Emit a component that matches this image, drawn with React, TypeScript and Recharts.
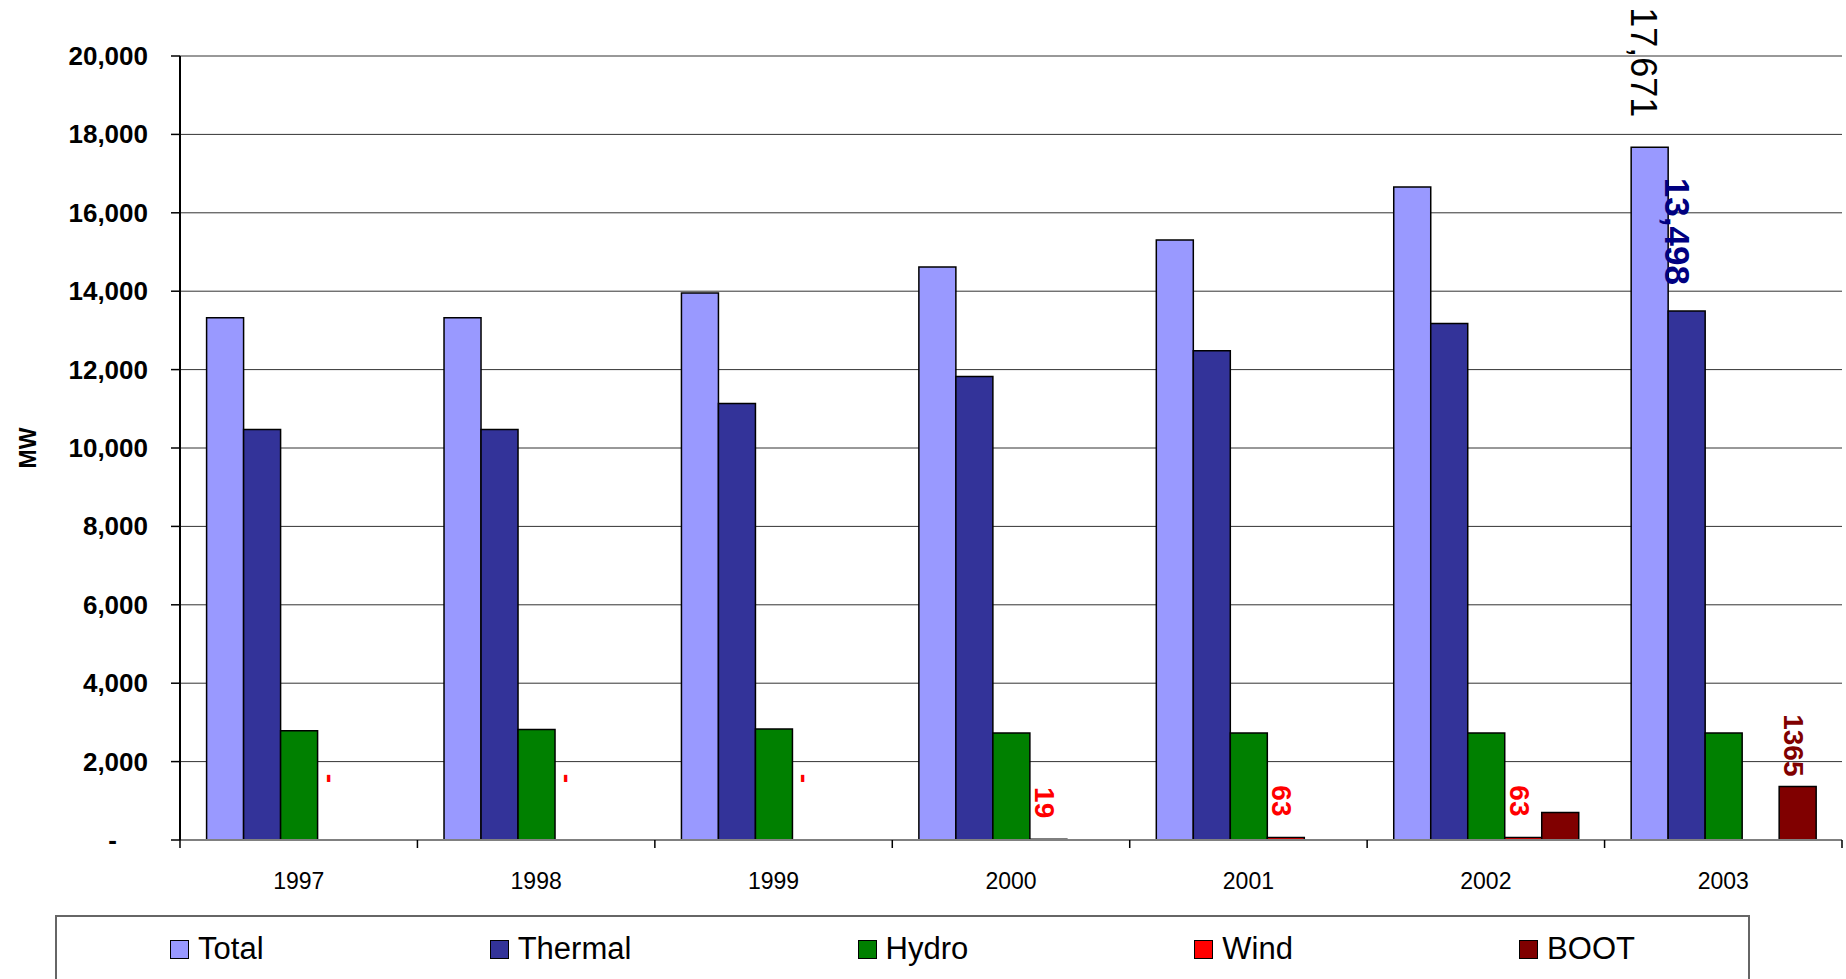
import React from 'react';
import { BarChart, Bar, XAxis, YAxis, CartesianGrid, LabelList, Cell } from 'recharts';

const FONT = "'Liberation Sans', Arial, sans-serif";

const years = ['1997', '1998', '1999', '2000', '2001', '2002', '2003'];
const total = [13324, 13324, 13954, 14615, 15306, 16656, 17671];
const thermal = [10472, 10472, 11133, 11823, 12483, 13174, 13498];
const hydro = [2790, 2820, 2830, 2730, 2730, 2730, 2730];
const wind: (number | null)[] = [0, 0, 0, 19, 63, 63, null];
const boot: (number | null)[] = [null, null, null, null, null, 704, 1365];
const yTicks = [0, 2000, 4000, 6000, 8000, 10000, 12000, 14000, 16000, 18000, 20000];

// years whose bars carry a value label
const totalLabelYears = ['2003'];
const thermalLabelYears = ['2003'];
const bootLabelYears = ['2003'];

const seriesKeys = ['total', 'thermal', 'hydro', 'wind', 'boot'];
const seriesNames = ['Total', 'Thermal', 'Hydro', 'Wind', 'BOOT'];
const colors: Record<string, string> = {
  total: '#9999FF',
  thermal: '#333399',
  hydro: '#008000',
  wind: '#FF0000',
  boot: '#800000',
};

const data = years.map((year, i) => ({
  year,
  total: total[i],
  thermal: thermal[i],
  hydro: hydro[i],
  wind: wind[i],
  boot: boot[i],
  totalLabel: totalLabelYears.includes(year) ? total[i] : null,
  thermalLabel: thermalLabelYears.includes(year) ? thermal[i] : null,
  windLabel: wind[i],
  bootLabel: bootLabelYears.includes(year) ? boot[i] : null,
}));

const withCommas = (v: number) => v.toLocaleString('en-US');

type LabelStyle = {
  color: string;
  size: number;
  bold: boolean;
  gap: number;
  shift: number;
  fmt: (v: number) => string;
};

// vertical labels reading top-to-bottom, ending just above the bar
const rotatedLabel = (st: LabelStyle) => (props: any) => {
  const { x, y, width, height, value } = props;
  if (value == null) return null;
  const zero = Number(value) === 0;
  const top = zero ? Number(y) + Number(height || 0) : Number(y);
  const ax = Number(x) + Number(width) / 2 + (zero ? -6 : st.shift);
  const ay = top - st.gap - (zero ? 36 : 0);
  return (
    <text
      x={ax}
      y={ay}
      transform={`rotate(90, ${ax}, ${ay})`}
      textAnchor="end"
      dominantBaseline="central"
      fill={st.color}
      fontSize={st.size}
      fontWeight={st.bold ? 'bold' : 'normal'}
      fontFamily={FONT}
    >
      {zero ? '-' : st.fmt(Number(value))}
    </text>
  );
};

const ValueTick = (props: any) => {
  const { x, y, payload } = props;
  const zero = payload.value === 0;
  return (
    <text
      x={zero ? x - 31 : x}
      y={y}
      textAnchor="end"
      dominantBaseline="central"
      fontSize={26}
      fontWeight="bold"
      fontFamily={FONT}
      fill="#000"
    >
      {zero ? '-' : withCommas(payload.value)}
    </text>
  );
};

const YearTick = (props: any) => {
  const { x, y, payload, index, visibleTicksCount } = props;
  const half = payload.offset ?? 0;
  const last = index === visibleTicksCount - 1;
  return (
    <g>
      <line x1={x - half} y1={y} x2={x - half} y2={y + 8} stroke="#000" strokeWidth={1.5} />
      {last && <line x1={x + half} y1={y} x2={x + half} y2={y + 8} stroke="#000" strokeWidth={1.5} />}
      <text
        x={x}
        y={y + 41}
        textAnchor="middle"
        dominantBaseline="central"
        fontSize={23}
        fontFamily={FONT}
        fill="#000"
      >
        {payload.value}
      </text>
    </g>
  );
};

const MWLabel = (props: any) => {
  const vb = props.viewBox || { x: 0, y: 56, height: 784 };
  const lx = vb.x + 28;
  const ly = vb.y + vb.height / 2;
  return (
    <text
      x={lx}
      y={ly}
      transform={`rotate(-90, ${lx}, ${ly})`}
      textAnchor="middle"
      dominantBaseline="central"
      fontSize={23}
      fontWeight="bold"
      fontFamily={FONT}
      fill="#000"
    >
      MW
    </text>
  );
};

const ChartLegend = () => (
  <div
    style={{
      position: 'absolute',
      left: 55,
      top: 915,
      width: 1695,
      height: 68,
      boxSizing: 'border-box',
      border: '2px solid #666',
      display: 'flex',
      justifyContent: 'space-around',
      alignItems: 'center',
      fontFamily: FONT,
      fontSize: 31,
      color: '#000',
    }}
  >
    {seriesKeys.map((k, i) => (
      <div key={k} style={{ display: 'flex', alignItems: 'center' }}>
        <div
          style={{
            width: 19,
            height: 19,
            boxSizing: 'border-box',
            border: '1.5px solid #000',
            background: colors[k],
            marginRight: 9,
          }}
        />
        <span>{seriesNames[i]}</span>
      </div>
    ))}
  </div>
);

export default function App() {
  return (
    <div
      style={{
        position: 'fixed',
        left: 0,
        top: 0,
        width: 1846,
        height: 979,
        overflow: 'hidden',
        background: '#fff',
        fontFamily: FONT,
      }}
    >
      <BarChart
        width={1846}
        height={979}
        data={data}
        margin={{ top: 56, right: 4, bottom: 79, left: 0 }}
        barCategoryGap="11.2%"
        barGap={0}
      >
        <CartesianGrid vertical={false} stroke="#333" strokeWidth={1} />
        <XAxis
          dataKey="year"
          height={60}
          interval={0}
          tickSize={0}
          tickMargin={0}
          tickLine={false}
          axisLine={{ stroke: '#808080', strokeWidth: 2 }}
          tick={<YearTick />}
        />
        <YAxis
          width={180}
          domain={[0, 20000]}
          ticks={yTicks}
          interval={0}
          tickSize={9}
          tickMargin={23}
          axisLine={{ stroke: '#000', strokeWidth: 2 }}
          tickLine={{ stroke: '#000', strokeWidth: 1.5 }}
          tick={<ValueTick />}
          label={MWLabel}
        />
        <YAxis
          yAxisId="right"
          orientation="right"
          width={0}
          domain={[0, 20000]}
          tick={false}
          tickLine={false}
          axisLine={{ stroke: '#808080', strokeWidth: 2 }}
        />
        <Bar dataKey="total" name="Total" fill={colors.total} stroke="#000" strokeWidth={1.5} isAnimationActive={false}>
          <LabelList
            dataKey="totalLabel"
            content={rotatedLabel({ color: '#000', size: 36, bold: false, gap: 30, shift: -6, fmt: withCommas })}
          />
        </Bar>
        <Bar dataKey="thermal" name="Thermal" fill={colors.thermal} stroke="#000" strokeWidth={1.5} isAnimationActive={false}>
          <LabelList
            dataKey="thermalLabel"
            content={rotatedLabel({ color: '#000080', size: 35, bold: true, gap: 26, shift: -9, fmt: withCommas })}
          />
        </Bar>
        <Bar dataKey="hydro" name="Hydro" fill={colors.hydro} stroke="#000" strokeWidth={1.5} isAnimationActive={false} />
        <Bar
          dataKey="wind"
          name="Wind"
          fill={colors.wind}
          stroke="#000"
          strokeWidth={1.5}
          minPointSize={(v: any) => (v === 0 ? 1 : 0)}
          isAnimationActive={false}
        >
          {data.map((row) => (
            <Cell
              key={row.year}
              fill={row.wind === 0 ? 'none' : colors.wind}
              stroke={row.wind === 0 ? 'none' : '#000'}
            />
          ))}
          <LabelList
            dataKey="windLabel"
            content={rotatedLabel({ color: '#FF0000', size: 28, bold: true, gap: 21, shift: -4, fmt: String })}
          />
        </Bar>
        <Bar dataKey="boot" name="BOOT" fill={colors.boot} stroke="#000" strokeWidth={1.5} isAnimationActive={false}>
          <LabelList
            dataKey="bootLabel"
            content={rotatedLabel({ color: '#800000', size: 28, bold: true, gap: 10, shift: -4, fmt: String })}
          />
        </Bar>
      </BarChart>
      <ChartLegend />
    </div>
  );
}
